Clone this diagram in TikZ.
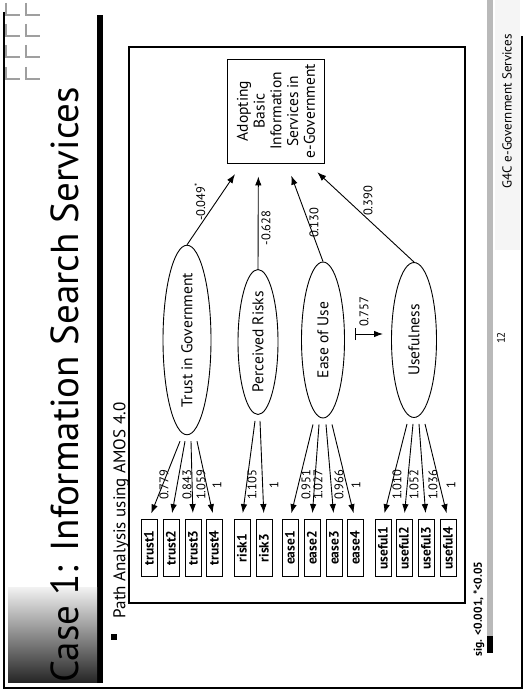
\documentclass[tikz,border=0pt]{standalone}
\usepackage{fontspec}
\setmainfont{PT Sans}
\usetikzlibrary{shapes.geometric,calc,arrows.meta}
\begin{document}
\begin{tikzpicture}[x=1pt,y=-1pt,>={Latex[length=9pt,width=6.5pt]},line width=0.9pt,
  lat/.style={ellipse,draw,rotate=90,inner sep=0pt,font=\fontsize{15.5}{18}\selectfont},
  ind/.style={draw,rotate=90,minimum width=57pt,minimum height=16pt,inner sep=0pt,font=\bfseries\fontsize{13.5}{14}\selectfont},
  num/.style={rotate=90,inner sep=0pt,font=\fontsize{12.5}{14}\selectfont}]
  \useasboundingbox (0,0) rectangle (526,700);
  % 页面边框
  \draw[line width=2.5pt] (4,12) -- (4,688) -- (522,688) -- (522,36);
  \fill (97,15) rectangle (103,683);
  \fill[gray!8] (495,0) rectangle (520,250);
  \fill[gray!55] (487,0) rectangle (493,653);
  \fill (487,636) rectangle (493,653);
  \shade[top color=gray!10,bottom color=black!85] (8,587) rectangle (97,682);
  % 左上角标志
  \foreach \y in {3,24,45,67}
    \foreach \x in {6,26}
      \draw[gray!75,line width=1.6pt] (\x,\y) -- (\x,\y+12) -- (\x+14,\y+12);
  % 标题
  \node[rotate=90,font=\fontsize{39}{42}\selectfont] (title) at (65,385) {Case 1: Information Search Services};
  \fill (111,634) rectangle (117,640);
  \node[rotate=90,anchor=west,font=\fontsize{17}{20}\selectfont] (sub) at (121,622) {Path Analysis using AMOS 4.0};
  % 图框
  \draw[line width=1.2pt] (129,47) rectangle (465,603);
  % 潜变量与目标
  \node[draw,rotate=90,minimum width=104pt,minimum height=97pt,align=center,
        font=\fontsize{15.5}{16.75}\selectfont] (goal) at (276,111)
        {Adopting\\Basic\\Information\\Services in\\e-Government};
  \node[lat,minimum width=156pt,minimum height=48pt] (trust) at (187,340) {Trust in Government};
  \node[lat,minimum width=145pt,minimum height=40pt] (risk) at (258,342) {Perceived Risks};
  \node[lat,minimum width=156pt,minimum height=43pt] (ease) at (323,340) {Ease of Use};
  \node[lat,minimum width=155pt,minimum height=45pt] (useful) at (414,340) {Usefulness};
  % 路径系数
  \draw[->,shorten >=13pt] (trust.east) -- ($(goal.north west)!0.155!(goal.south west)$);
  \draw[->,shorten >=13pt] (risk.east) -- ($(goal.north west)!0.32!(goal.south west)$);
  \draw[->,shorten >=13pt] (ease.east) -- ($(goal.north west)!0.61!(goal.south west)$);
  \draw[->,shorten >=13pt] (useful.east) -- ($(goal.north west)!0.825!(goal.south west)$);
  \node[num] (p1) at (200,202) {-0.049\textsuperscript{*}};
  \node[num] (p2) at (266,228) {-0.628};
  \node[num] (p3) at (314,223) {0.130};
  \node[num] (p4) at (368,201) {0.390};
  \coordinate (e757) at (355,334);
  \coordinate (u757) at (383,334);
  \draw[{Bar[width=12pt]}->] (e757) -- (u757);
  \node[num] (p5) at (364,312) {0.757};
  % 观测变量
  \foreach \nm/\x/\dx/\lx/\val in {trust1/149/-7/164/0.779,trust2/171/-2/187/0.843,trust3/193/4/201/1.059,trust4/214/10/217/1}{
    \node[ind] (\nm) at (\x,548) {\nm};
    \draw[->,shorten >=6pt] ($(trust.west)+(\dx,6)$) -- (\nm.east);
    \node[num] at (\lx,485) {\val};
  }
  \foreach \nm/\x/\dx/\lx/\val in {risk1/242/-3/252/1.105,risk3/264/2/274/1}{
    \node[ind] (\nm) at (\x,548) {\nm};
    \draw[->,shorten >=6pt] ($(risk.west)+(\dx,6)$) -- (\nm.east);
    \node[num] at (\lx,485) {\val};
  }
  \foreach \nm/\x/\dx/\lx/\val in {ease1/290/-10/306/0.951,ease2/312/-4/318/1.027,ease3/334/3/339/0.966,ease4/355/9/356/1}{
    \node[ind] (\nm) at (\x,548) {\nm};
    \draw[->,shorten >=6pt] ($(ease.west)+(\dx,6)$) -- (\nm.east);
    \node[num] at (\lx,485) {\val};
  }
  \foreach \nm/\x/\dx/\lx/\val in {useful1/383/-7/397/1.010,useful2/404/-1/414/1.052,useful3/426/5/433/1.036,useful4/448/11/451/1}{
    \node[ind] (\nm) at (\x,548) {\nm};
    \draw[->,shorten >=6pt] ($(useful.west)+(\dx,6)$) -- (\nm.east);
    \node[num] at (\lx,485) {\val};
  }
  % 页脚
  \node[rotate=90,anchor=west,font=\bfseries\fontsize{11.5}{13}\selectfont] (sig) at (479,660) {sig. <0.001, *<0.05};
  \node[rotate=90,font=\fontsize{11}{13}\selectfont] (page) at (501,338) {12};
  \node[rotate=90,anchor=west,font=\fontsize{13}{15}\selectfont] (foot) at (507,192) {G4C e-Government Services};
\end{tikzpicture}
\end{document}
